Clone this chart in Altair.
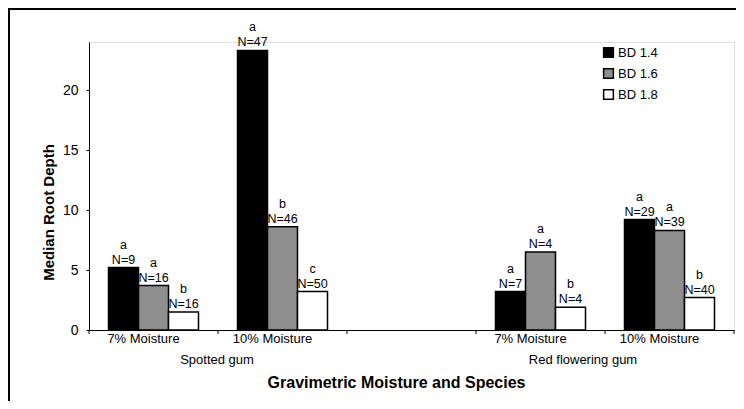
import altair as alt
import pandas as pd

# ---- data ----
categories = ["Spotted gum|7% Moisture", "Spotted gum|10% Moisture", "|",
              "Red flowering gum|7% Moisture", "Red flowering gum|10% Moisture"]
moisture_labels = ["7% Moisture", "10% Moisture", "", "7% Moisture", "10% Moisture"]
bd_levels = ["BD 1.4", "BD 1.6", "BD 1.8"]
bd_colors = ["#000000", "#8e8e8e", "#ffffff"]

bar_cat = (["Spotted gum|7% Moisture"] * 3 + ["Spotted gum|10% Moisture"] * 3 +
           ["Red flowering gum|7% Moisture"] * 3 + ["Red flowering gum|10% Moisture"] * 3)
bar_bd = bd_levels * 4
depth = [5.2, 3.7, 1.5,
         23.3, 8.6, 3.2,
         3.2, 6.5, 1.9,
         9.2, 8.3, 2.7]
letters = ["a", "a", "b",
           "a", "b", "c",
           "a", "a", "b",
           "a", "a", "b"]
n_vals = [9, 16, 16,
          47, 46, 50,
          7, 4, 4,
          29, 39, 40]

species = ["Spotted gum", "Red flowering gum"]
species_anchor = ["Spotted gum|10% Moisture", "Red flowering gum|10% Moisture"]

df = pd.DataFrame({"cat": bar_cat, "bd": bar_bd, "depth": depth,
                   "letter": letters, "n": n_vals})
df["nlabel"] = [f"N={n}" for n in n_vals]

cat_df = pd.DataFrame({"cat": categories, "mlabel": moisture_labels})
sp_df = pd.DataFrame({"species": species, "cat": species_anchor})

FONT = "Liberation Sans"
W, H = 645, 288

xscale = alt.Scale(domain=categories, paddingInner=0, paddingOuter=0)
yscale = alt.Scale(domain=[0, 24], nice=False)
offscale = alt.Scale(domain=bd_levels, paddingInner=0, paddingOuter=0.65)

x_enc = alt.X("cat:N", scale=xscale, sort=categories,
              axis=alt.Axis(title="Gravimetric Moisture and Species",
                            labels=False, ticks=False,
                            domainColor="black", domainWidth=1,
                            titleFont=FONT, titleFontSize=16, titleFontWeight="bold",
                            titleColor="black", titleX=307, titleY=52,
                            titleBaseline="middle", titleAlign="center"))

bars = alt.Chart(df).mark_bar(stroke="black", strokeWidth=1.5).encode(
    x=x_enc,
    xOffset=alt.XOffset("bd:N", sort=bd_levels, scale=offscale),
    y=alt.Y("depth:Q", scale=yscale,
            axis=alt.Axis(title="Median Root Depth", values=[0, 5, 10, 15, 20],
                          grid=False, tickSize=3, tickColor="black",
                          domainColor="black", labelFontSize=14, labelFont=FONT,
                          labelColor="black", labelPadding=8,
                          titleFont=FONT, titleFontSize=15, titleFontWeight="bold",
                          titleColor="black", titleAngle=-90, titleX=-36, titleY=170,
                          titleAlign="center", titleBaseline="alphabetic")),
    fill=alt.Fill("bd:N", scale=alt.Scale(domain=bd_levels, range=bd_colors),
                  legend=alt.Legend(title=None, orient="none", legendX=513, legendY=4,
                                    symbolType="square", symbolSize=95,
                                    symbolStrokeColor="black", symbolStrokeWidth=1.5,
                                    labelFont=FONT, labelFontSize=13, labelColor="black",
                                    labelOffset=3, rowPadding=4)),
)

def bar_text(field, dy):
    return alt.Chart(df).mark_text(baseline="bottom", dy=dy, fontSize=12.5, font=FONT,
                                   color="black").encode(
        x=alt.X("cat:N", scale=xscale, sort=categories),
        xOffset=alt.XOffset("bd:N", sort=bd_levels, scale=offscale),
        y=alt.Y("depth:Q", scale=yscale),
        text=f"{field}:N",
    )

nlabels = bar_text("nlabel", -1)
letlabels = bar_text("letter", -16)

mlabels = alt.Chart(cat_df).mark_text(fontSize=13, font=FONT, color="black",
                                      baseline="middle", dx=-10).encode(
    x=alt.X("cat:N", scale=xscale, sort=categories),
    y=alt.value(H + 9), text="mlabel:N")

ticks = alt.Chart(cat_df).mark_rule(color="black", strokeWidth=1).encode(
    x=alt.X("cat:N", scale=xscale, sort=categories, bandPosition=0),
    y=alt.value(H), y2=alt.value(H + 4),
)
end_tick = alt.Chart(cat_df.tail(1)).mark_rule(color="black", strokeWidth=1).encode(
    x=alt.X("cat:N", scale=xscale, sort=categories, bandPosition=1),
    y=alt.value(H), y2=alt.value(H + 4),
)

sp1 = alt.Chart(sp_df.head(1)).mark_text(fontSize=13, font=FONT, color="black",
                                          baseline="middle", dx=-1).encode(
    x=alt.X("cat:N", scale=xscale, sort=categories, bandPosition=0),
    y=alt.value(H + 30), text="species:N")
sp2 = alt.Chart(sp_df.tail(1)).mark_text(fontSize=13, font=FONT, color="black",
                                          baseline="middle", dx=-22).encode(
    x=alt.X("cat:N", scale=xscale, sort=categories, bandPosition=0),
    y=alt.value(H + 30), text="species:N")

frame_df = pd.DataFrame({"k": [0]})
frame_left = alt.Chart(frame_df).mark_rule(color="black", strokeWidth=2).encode(
    x=alt.value(-80), y=alt.value(-33), y2=alt.value(H + 80))
frame_top = alt.Chart(frame_df).mark_rule(color="black", strokeWidth=2).encode(
    x=alt.value(-81), x2=alt.value(W + 2), y=alt.value(-33))

chart = alt.layer(bars, nlabels, letlabels, mlabels, ticks, end_tick, sp1, sp2,
                  frame_left, frame_top).properties(
    width=W, height=H,
    autosize=alt.AutoSizeParams(type="none"),
    padding={"left": 81, "top": 34, "right": 2, "bottom": 71},
).configure_view(stroke=None).configure(background="white")

chart.save("out.html", embed_options={"renderer": "svg", "actions": False})
